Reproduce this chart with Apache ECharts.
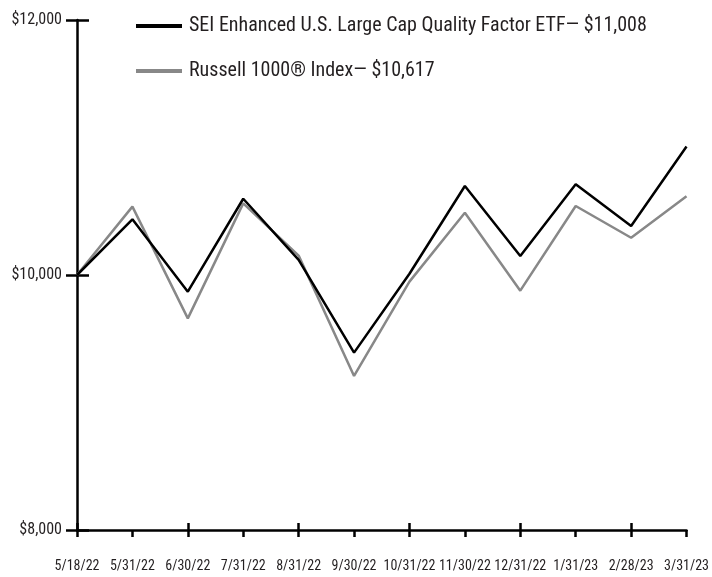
<!DOCTYPE html>
<html>
<head>
<meta charset="utf-8">
<script src="https://cdn.jsdelivr.net/npm/echarts@6/dist/echarts.min.js"></script>
<style>html,body{margin:0;padding:0;background:#fff}#c{width:712px;height:577px}</style>
</head>
<body>
<div id="c"></div>
<script>
const categories = ['5/18/22','5/31/22','6/30/22','7/31/22','8/31/22','9/30/22','10/31/22','11/30/22','12/31/22','1/31/23','2/28/23','3/31/23'];
const seiValues = [10000, 10437, 9869, 10598, 10118, 9391, 10010, 10698, 10149, 10711, 10384, 11008];
const russellValues = [10000, 10536, 9660, 10562, 10152, 9208, 9948, 10488, 9877, 10541, 10292, 10617];
const seriesNames = ['SEI Enhanced U.S. Large Cap Quality Factor ETF\u2014 $11,008', 'Russell 1000\u00AE Index\u2014 $10,617'];
const yTicks = [8000, 10000, 12000];

const FONT = '"Roboto Condensed", "DejaVu Sans Condensed", sans-serif';
const TXT = '#231f20';
const chart = echarts.init(document.getElementById('c'), null, {renderer: 'canvas'});
const fmt = v => '$' + v.toLocaleString('en-US');
chart.setOption({
  animation: false,
  backgroundColor: '#fff',
  grid: {left: 77, right: 24, top: 20, bottom: 47, containLabel: false},
  legend: {
    orient: 'vertical', left: 136, top: 15, padding: 0,
    itemWidth: 46, itemHeight: 4, itemGap: 23,
    icon: 'rect',
    textStyle: {fontFamily: FONT, fontSize: 20, color: TXT, lineHeight: 22, padding: [0,0,0,2]},
    data: [
      {name: seriesNames[0], itemStyle: {color: '#000'}},
      {name: seriesNames[1], itemStyle: {color: '#888'}}
    ]
  },
  xAxis: [{
    type: 'category', data: categories, boundaryGap: false,
    axisLine: {lineStyle: {color: '#000', width: 2.5}},
    axisTick: {show: true, length: 7, lineStyle: {color: '#000', width: 2.5}, alignWithLabel: true},
    axisLabel: {fontFamily: FONT, fontSize: 14, color: TXT, margin: 29, interval: 0}
  }, {
    type: 'category', data: categories, boundaryGap: false, position: 'bottom',
    axisLine: {show: false},
    axisTick: {show: true, inside: true, length: 7, lineStyle: {color: '#000', width: 2.5}},
    axisLabel: {show: false}
  }],
  yAxis: [{
    type: 'value', min: yTicks[0], max: yTicks[yTicks.length-1], interval: 2000,
    axisLine: {show: true, lineStyle: {color: '#000', width: 2.5}},
    axisTick: {show: true, length: 11, lineStyle: {color: '#000', width: 2.5}},
    splitLine: {show: false},
    axisLabel: {fontFamily: FONT, fontSize: 16, color: TXT, margin: 15, formatter: fmt}
  }, {
    type: 'value', min: yTicks[0], max: yTicks[yTicks.length-1], interval: 2000, position: 'left',
    axisLine: {show: false},
    axisTick: {show: true, inside: true, length: 12, lineStyle: {color: '#000', width: 2.5}},
    splitLine: {show: false},
    axisLabel: {show: false}
  }],
  series: [{
    name: seriesNames[0], type: 'line', data: seiValues, z: 3,
    symbol: 'none', lineStyle: {color: '#000', width: 2.5}, itemStyle: {color: '#000'}
  }, {
    name: seriesNames[1], type: 'line', data: russellValues, z: 2,
    symbol: 'none', lineStyle: {color: '#888', width: 2.5}, itemStyle: {color: '#888'}
  }]
});
</script>
</body>
</html>
